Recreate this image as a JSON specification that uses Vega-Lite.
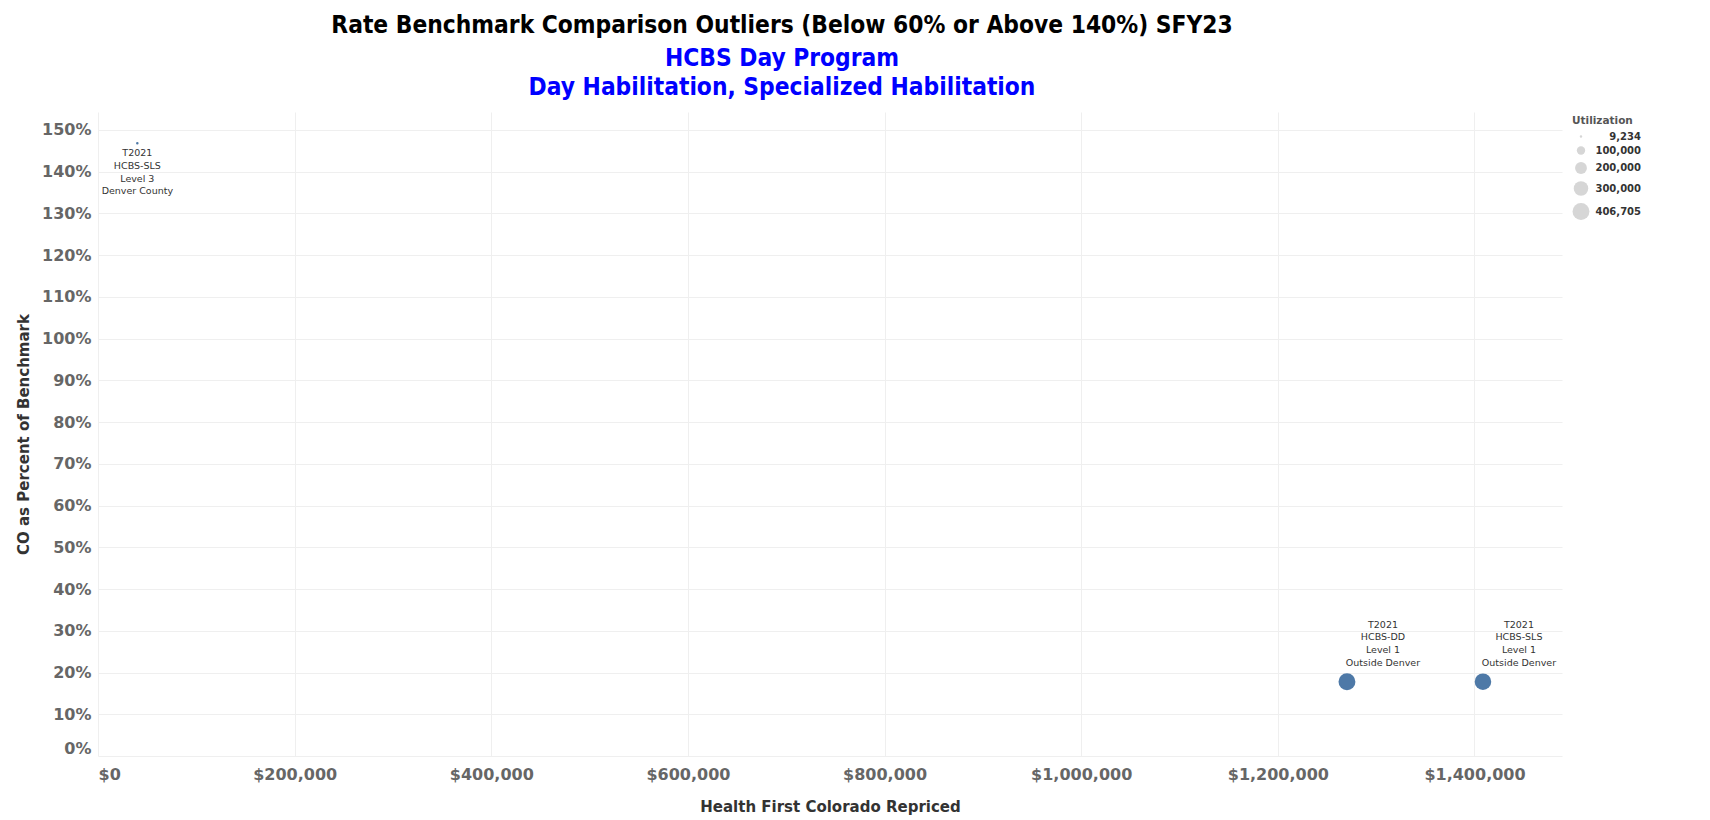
{
  "$schema": "https://vega.github.io/schema/vega-lite/v6.json",
  "width": 1464,
  "height": 644,
  "autosize": {"type": "none"},
  "padding": {"left": 98, "top": 112, "right": 148, "bottom": 64},
  "background": "white",
  "title": {
    "text": "Rate Benchmark Comparison Outliers (Below 60% or Above 140%) SFY23",
    "subtitle": ["HCBS Day Program", "Day Habilitation, Specialized Habilitation"],
    "anchor": "middle",
    "dx": -48,
    "offset": 12,
    "font": "DejaVu Sans Condensed",
    "fontSize": 24.3,
    "fontWeight": "bold",
    "color": "#000000",
    "subtitleFont": "DejaVu Sans Condensed",
    "subtitleFontSize": 24.3,
    "subtitleFontWeight": "bold",
    "subtitleColor": "#0000ff",
    "subtitleLineHeight": 29,
    "subtitlePadding": 8.5
  },
  "config": {
    "view": {"stroke": null},
    "axis": {
      "domain": false,
      "ticks": false,
      "tickSize": 0,
      "grid": true,
      "gridColor": "#efefef",
      "gridWidth": 1,
      "labelFont": "DejaVu Sans",
      "labelFontSize": 16,
      "labelFontWeight": "bold",
      "labelColor": "#666666",
      "titleFont": "DejaVu Sans",
      "titleFontSize": 15,
      "titleFontWeight": "bold",
      "titleColor": "#333333"
    }
  },
  "data": {
    "values": [
      {"code": "T2021", "program": "HCBS-SLS", "level": "Level 3", "region": "Denver County", "label": "T2021\nHCBS-SLS\nLevel 3\nDenver County", "repriced": 40000, "pct": 1.468, "utilization": 9234},
      {"code": "T2021", "program": "HCBS-DD", "level": "Level 1", "region": "Outside Denver", "label": "T2021\nHCBS-DD\nLevel 1\nOutside Denver", "repriced": 1270300, "pct": 0.178, "utilization": 406705},
      {"code": "T2021", "program": "HCBS-SLS", "level": "Level 1", "region": "Outside Denver", "label": "T2021\nHCBS-SLS\nLevel 1\nOutside Denver", "repriced": 1408600, "pct": 0.178, "utilization": 390000}
    ]
  },
  "encoding": {
    "x": {
      "field": "repriced",
      "type": "quantitative",
      "title": "Health First Colorado Repriced",
      "scale": {"domain": [0, 1489000], "nice": false, "zero": false},
      "axis": {
        "values": [0, 200000, 400000, 600000, 800000, 1000000, 1200000, 1400000],
        "format": "$,.0f",
        "labelPadding": 10,
        "titlePadding": 17,
        "labelAlign": {"condition": {"test": "datum.value == 0", "value": "left"}, "value": "center"}
      }
    },
    "y": {
      "field": "pct",
      "type": "quantitative",
      "title": "CO as Percent of Benchmark",
      "scale": {"domain": [0, 1.543], "nice": false, "zero": false},
      "axis": {
        "values": [0, 0.1, 0.2, 0.3, 0.4, 0.5, 0.6, 0.7, 0.8, 0.9, 1.0, 1.1, 1.2, 1.3, 1.4, 1.5],
        "format": ".0%",
        "labelPadding": 7,
        "titlePadding": 10,
        "labelBaseline": {"condition": {"test": "datum.value == 0", "value": "bottom"}, "value": "middle"}
      }
    }
  },
  "layer": [
    {
      "mark": {"type": "circle", "color": "#d6d6d6", "opacity": 0},
      "encoding": {
        "size": {
          "field": "utilization",
          "type": "quantitative",
          "title": "Utilization",
          "scale": {"domain": [0, 406705], "range": [0, 285], "zero": true},
          "legend": {
            "orient": "right",
            "offset": 6,
            "padding": 4,
            "values": [9234, 100000, 200000, 300000, 406705],
            "format": ",d",
            "titleFont": "DejaVu Sans",
            "titleFontSize": 10.5,
            "titleFontWeight": "bold",
            "titleColor": "#555555",
            "labelFont": "DejaVu Sans",
            "labelFontSize": 10,
            "labelFontWeight": "bold",
            "labelColor": "#333333",
            "labelAlign": "right",
            "labelOffset": 51,
            "symbolOpacity": 1,
            "symbolFillColor": "#d6d6d6",
            "symbolStrokeColor": "#aaaaaa",
            "symbolStrokeWidth": 1
          }
        }
      }
    },
    {
      "mark": {"type": "circle", "color": "#4e79a7", "opacity": 1},
      "encoding": {
        "size": {
          "field": "utilization",
          "type": "quantitative",
          "legend": null
        }
      }
    },
    {
      "transform": [{"filter": "datum.utilization > 100000"}],
      "mark": {"type": "text", "lineBreak": "\n", "align": "center", "baseline": "top", "dx": 36, "dy": -62, "font": "DejaVu Sans", "fontSize": 9.5, "lineHeight": 12.7, "color": "#333333"},
      "encoding": {"text": {"field": "label"}}
    },
    {
      "transform": [{"filter": "datum.utilization <= 100000"}],
      "mark": {"type": "text", "lineBreak": "\n", "align": "center", "baseline": "top", "dx": 0, "dy": 5, "font": "DejaVu Sans", "fontSize": 9.5, "lineHeight": 12.7, "color": "#333333"},
      "encoding": {"text": {"field": "label"}}
    }
  ]
}
